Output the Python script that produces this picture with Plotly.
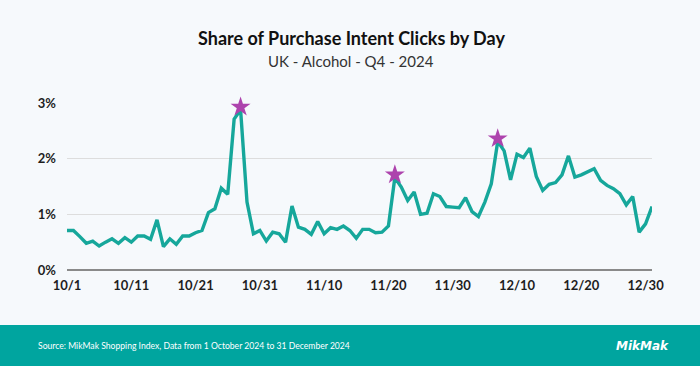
import plotly.graph_objects as go
import pandas as pd

dates = pd.date_range("2024-10-01", "2024-12-31", freq="D")
share = [
    0.71, 0.71, 0.60, 0.48, 0.52, 0.43, 0.50, 0.56, 0.48, 0.58,
    0.50, 0.61, 0.61, 0.55, 0.90, 0.42, 0.56, 0.46, 0.61, 0.61,
    0.67, 0.71, 1.03, 1.10, 1.47, 1.36, 2.71, 2.88, 1.22, 0.65,
    0.71, 0.52, 0.68, 0.65, 0.50, 1.15, 0.77, 0.73, 0.64, 0.87,
    0.65, 0.76, 0.73, 0.79, 0.71, 0.57, 0.73, 0.73, 0.67, 0.68,
    0.79, 1.66, 1.49, 1.25, 1.40, 1.00, 1.02, 1.37, 1.32, 1.14,
    1.13, 1.12, 1.30, 1.05, 0.96, 1.22, 1.55, 2.31, 2.14, 1.62,
    2.08, 2.02, 2.19, 1.68, 1.43, 1.54, 1.57, 1.71, 2.05, 1.67,
    1.71, 1.77, 1.82, 1.61, 1.52, 1.46, 1.37, 1.17, 1.32, 0.68,
    0.83, 1.14,
]
star_idx = [27, 51, 67]
tick_labels = ["10/1", "10/11", "10/21", "10/31", "11/10", "11/20",
               "11/30", "12/10", "12/20", "12/30"]
tick_vals = pd.to_datetime(["2024-10-01", "2024-10-11", "2024-10-21", "2024-10-31",
                            "2024-11-10", "2024-11-20", "2024-11-30", "2024-12-10",
                            "2024-12-20", "2024-12-30"])
y_ticks = [0, 1, 2, 3]
y_labels = ["0%", "1%", "2%", "3%"]

title = "Share of Purchase Intent Clicks by Day"
subtitle = "UK - Alcohol - Q4 - 2024"
source = "Source: MikMak Shopping Index, Data from 1 October 2024 to 31 December 2024"

teal = "#16a79b"
fig = go.Figure()
fig.add_trace(go.Scatter(x=dates, y=share, mode="lines",
                         line=dict(color=teal, width=3.4), hoverinfo="skip"))
fig.add_trace(go.Scatter(x=[dates[i] for i in star_idx], y=[share[i] + 0.05 for i in star_idx],
                         mode="markers", marker=dict(symbol="star", size=15, color="#ad43ad",
                                                     line=dict(width=0)),
                         cliponaxis=False, hoverinfo="skip"))

bg = "#f6f9fc"
W, H = 700, 366
L, R, T, B = 67, 48, 103, 96
pw = W - L - R
ph = H - T - B

def px_x(p):
    return (p - L) / pw

def px_y(p):
    return (H - B - p) / ph

fig.update_layout(
    width=W, height=H, margin=dict(l=L, r=R, t=T, b=B),
    paper_bgcolor=bg, plot_bgcolor=bg, showlegend=False,
    xaxis=dict(range=[dates[0], dates[-1]], tickvals=tick_vals, ticktext=tick_labels,
               showgrid=False, zeroline=False, showline=False, ticks="",
               ticklabelstandoff=6,
               tickfont=dict(family="Lato", size=13, color="#1e1e1e", weight="bold"),
               fixedrange=True),
    yaxis=dict(range=[0, 3], tickvals=y_ticks, ticktext=y_labels,
               showgrid=True, gridcolor="#dddddd", gridwidth=1.2, zeroline=True,
               zerolinecolor="#8a8a8a", zerolinewidth=2, showline=False, ticks="",
               ticklabelstandoff=10,
               tickfont=dict(family="Lato", size=13, color="#1e1e1e", weight="bold"),
               fixedrange=True),
    shapes=[dict(type="rect", xref="paper", yref="paper",
                 x0=px_x(-5), x1=px_x(W + 5), y0=px_y(325), y1=px_y(H + 5),
                 fillcolor="#00a59f", line=dict(width=0), layer="below")],
    annotations=[
        dict(text=title, xref="paper", yref="paper", x=px_x(351), y=px_y(38),
             showarrow=False, xanchor="center", yanchor="middle",
             font=dict(family="Lato", size=18, color="#111111", weight="bold")),
        dict(text=subtitle, xref="paper", yref="paper", x=px_x(351), y=px_y(61),
             showarrow=False, xanchor="center", yanchor="middle",
             font=dict(family="Lato", size=15, color="#333333")),
        dict(text=source, xref="paper", yref="paper", x=px_x(36), y=px_y(346),
             showarrow=False, xanchor="left", yanchor="middle",
             font=dict(family="Lato", size=8.6, color="#ffffff")),
        dict(text="<i><b>MikMak</b></i>", xref="paper", yref="paper", x=px_x(642), y=px_y(346),
             showarrow=False, xanchor="center", yanchor="middle",
             font=dict(family="DejaVu Sans", size=12, color="#ffffff")),
    ],
)

fig.write_html("out.html", config={"displayModeBar": False, "staticPlot": True},
               post_script="document.body.style.margin='0';document.body.style.background='#f6f9fc';")
